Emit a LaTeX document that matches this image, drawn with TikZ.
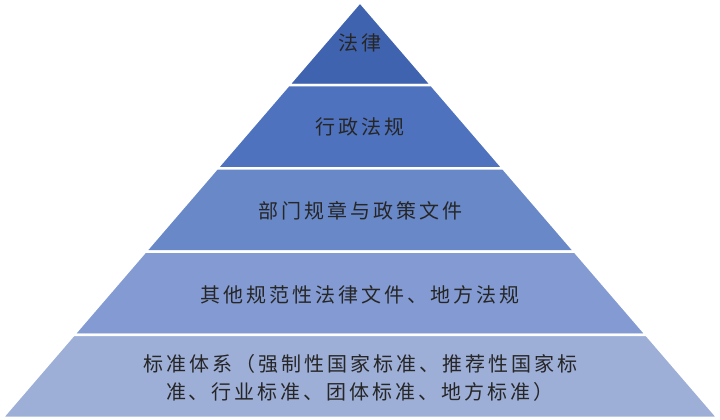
\documentclass[tikz,border=0pt]{standalone}
\usepackage{fontspec}
\newfontfamily\cjk[LetterSpace=15]{Noto Sans CJK SC}
\definecolor{tierA}{RGB}{64,99,175}
\definecolor{tierB}{RGB}{78,114,190}
\definecolor{tierC}{RGB}{104,136,200}
\definecolor{tierD}{RGB}{131,155,210}
\definecolor{tierE}{RGB}{157,174,215}
\begin{document}
\begin{tikzpicture}[x=0.75pt, y=-0.75pt,
  tier/.style={draw=white, line width=1.9pt, line join=miter},
  lbl/.style={font=\cjk\fontsize{15}{20.5}\selectfont, text=black!85, align=center, inner sep=0pt}]
  \useasboundingbox (0,0) rectangle (720,420);
  \coordinate (apex) at (360, 2);

  % the five tiers, top to bottom
  \fill[tier, fill=tierA] (apex) -- (431.6, 85.2) -- (288.4, 85.2) -- cycle;
  \fill[tier, fill=tierB] (288.4, 85.2) -- (431.6, 85.2) -- (503.2, 168.4) -- (216.8, 168.4) -- cycle;
  \fill[tier, fill=tierC] (216.8, 168.4) -- (503.2, 168.4) -- (574.8, 251.6) -- (145.2, 251.6) -- cycle;
  \fill[tier, fill=tierD] (145.2, 251.6) -- (574.8, 251.6) -- (646.4, 334.8) -- (73.6, 334.8) -- cycle;
  \fill[tier, fill=tierE] (73.6, 334.8) -- (646.4, 334.8) -- (718, 418) -- (2, 418) -- cycle;

  \node[lbl] (law) at (360, 43) {法律};
  \node[lbl] (regs) at (360, 127) {行政法规};
  \node[lbl] (rules) at (360, 211) {部门规章与政策文件};
  \node[lbl] (local) at (360, 295) {其他规范性法律文件、地方法规};
  \node[lbl] (std) at (360, 378) {标准体系（强制性国家标准、推荐性国家标\\准、行业标准、团体标准、地方标准）};
\end{tikzpicture}
\end{document}
